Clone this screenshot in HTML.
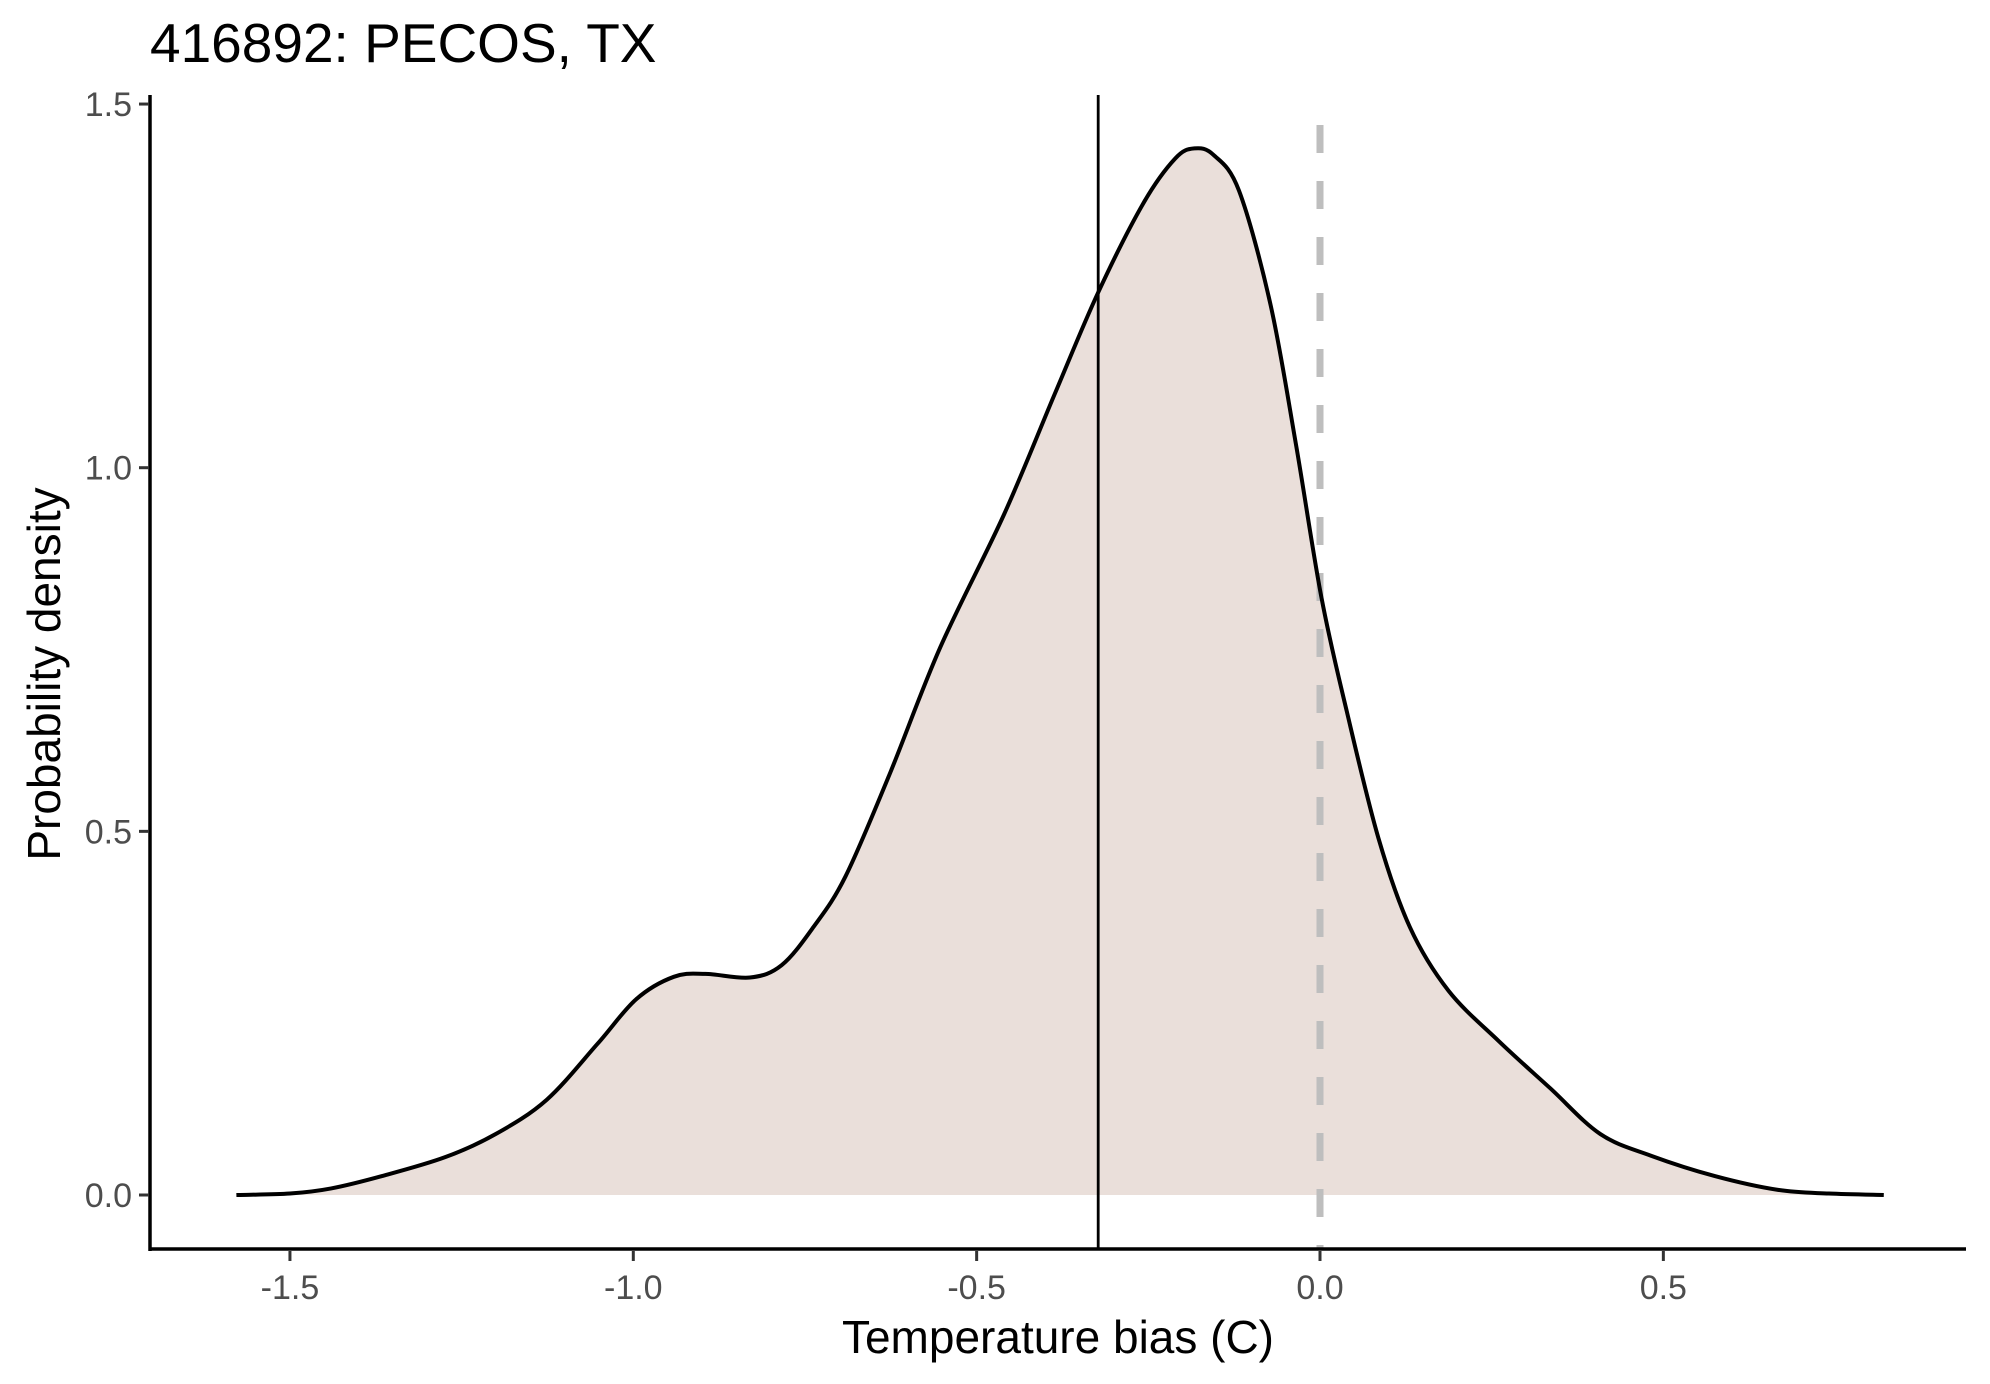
<!DOCTYPE html>
<html><head><meta charset="utf-8"><style>
html,body{margin:0;padding:0;background:#fff;}
svg{display:block;font-family:"Liberation Sans",Arial,sans-serif;}
</style></head><body>
<svg id="chart" width="1990" height="1384" viewBox="0 0 1990 1384">
<text x="150" y="62" font-size="55" fill="#000">416892: PECOS, TX</text>
<g id="plot"></g>
<text x="1058" y="1353" font-size="46" text-anchor="middle" fill="#000">Temperature bias (C)</text>
<text transform="translate(60,674) rotate(-90)" font-size="46" text-anchor="middle" fill="#000">Probability density</text>
</svg>
<script>
const xs = [-1.578,-1.5,-1.44,-1.366,-1.274,-1.2,-1.126,-1.052,-0.996,-0.941,-0.895,-0.83,-0.784,-0.738,-0.691,-0.627,-0.553,-0.46,-0.386,-0.323,-0.257,-0.211,-0.183,-0.155,-0.118,-0.072,-0.035,0.002,0.039,0.085,0.131,0.187,0.261,0.335,0.408,0.482,0.575,0.667,0.741,0.821];
const ys = [0,0.002,0.009,0.026,0.052,0.084,0.131,0.208,0.269,0.300,0.304,0.299,0.316,0.368,0.438,0.578,0.753,0.936,1.102,1.241,1.364,1.425,1.439,1.430,1.381,1.224,1.032,0.822,0.665,0.491,0.368,0.281,0.211,0.147,0.084,0.054,0.026,0.007,0.002,0];
const xTicks = [-1.5,-1.0,-0.5,0.0,0.5];
const xTickLabels = ["-1.5","-1.0","-0.5","0.0","0.5"];
const yTicks = [0,0.5,1.0,1.5];
const yTickLabels = ["0.0","0.5","1.0","1.5"];
const meanBias = [-0.323];
const refLine = [0];

const X = v => 1320 + v*686.7;
const Y = v => 1195 - v*727.3;
const NS = "http://www.w3.org/2000/svg";
const g = document.getElementById('plot');
function mk(t, a){const e=document.createElementNS(NS,t);for(const k in a)e.setAttribute(k,a[k]);g.appendChild(e);return e;}

const P = xs.map((x,i)=>[X(x),Y(ys[i])]);
let d = `M${P[0][0]},${P[0][1]}`;
for(let i=0;i<P.length-1;i++){
  const p0=P[Math.max(0,i-1)],p1=P[i],p2=P[i+1],p3=P[Math.min(P.length-1,i+2)];
  const c1=[p1[0]+(p2[0]-p0[0])/6,p1[1]+(p2[1]-p0[1])/6];
  const c2=[p2[0]-(p3[0]-p1[0])/6,p2[1]-(p3[1]-p1[1])/6];
  d+=` C${c1[0]},${c1[1]} ${c2[0]},${c2[1]} ${p2[0]},${p2[1]}`;
}
const area = mk('path',{d:d+` L${X(xs[xs.length-1])},${Y(0)} L${X(xs[0])},${Y(0)} Z`,fill:'#eadfda',stroke:'none'});



const ml = mk('line',{x1:X(meanBias[0]),x2:X(meanBias[0]),y1:95,y2:1249,stroke:'#000','stroke-width':2.8});


const rl = mk('line',{x1:X(refLine[0]),x2:X(refLine[0]),y1:125,y2:1249,stroke:'#bebebe','stroke-width':7,'stroke-dasharray':'28,28'});



const curve = mk('path',{d:d,fill:'none',stroke:'#000','stroke-width':4});



const ax = mk('line',{x1:150,x2:1966,y1:1249,y2:1249,stroke:'#000','stroke-width':3.5});


const ay = mk('line',{x1:150,x2:150,y1:95,y2:1251,stroke:'#000','stroke-width':3.5});



xTicks.forEach((v,i)=>{
  const t=mk('line',{x1:X(v),x2:X(v),y1:1251,y2:1261,stroke:'#333','stroke-width':3});
  
  
  const l=mk('text',{x:X(v),y:1299,'font-size':34,'text-anchor':'middle',fill:'#4d4d4d'});
  l.textContent=xTickLabels[i];
  
  
});
yTicks.forEach((v,i)=>{
  const t=mk('line',{x1:139,x2:149,y1:Y(v),y2:Y(v),stroke:'#333','stroke-width':3});
  
  
  const l=mk('text',{x:132,y:Y(v)+12,'font-size':34,'text-anchor':'end',fill:'#4d4d4d'});
  l.textContent=yTickLabels[i];
  
  
});
</script>
</body></html>
